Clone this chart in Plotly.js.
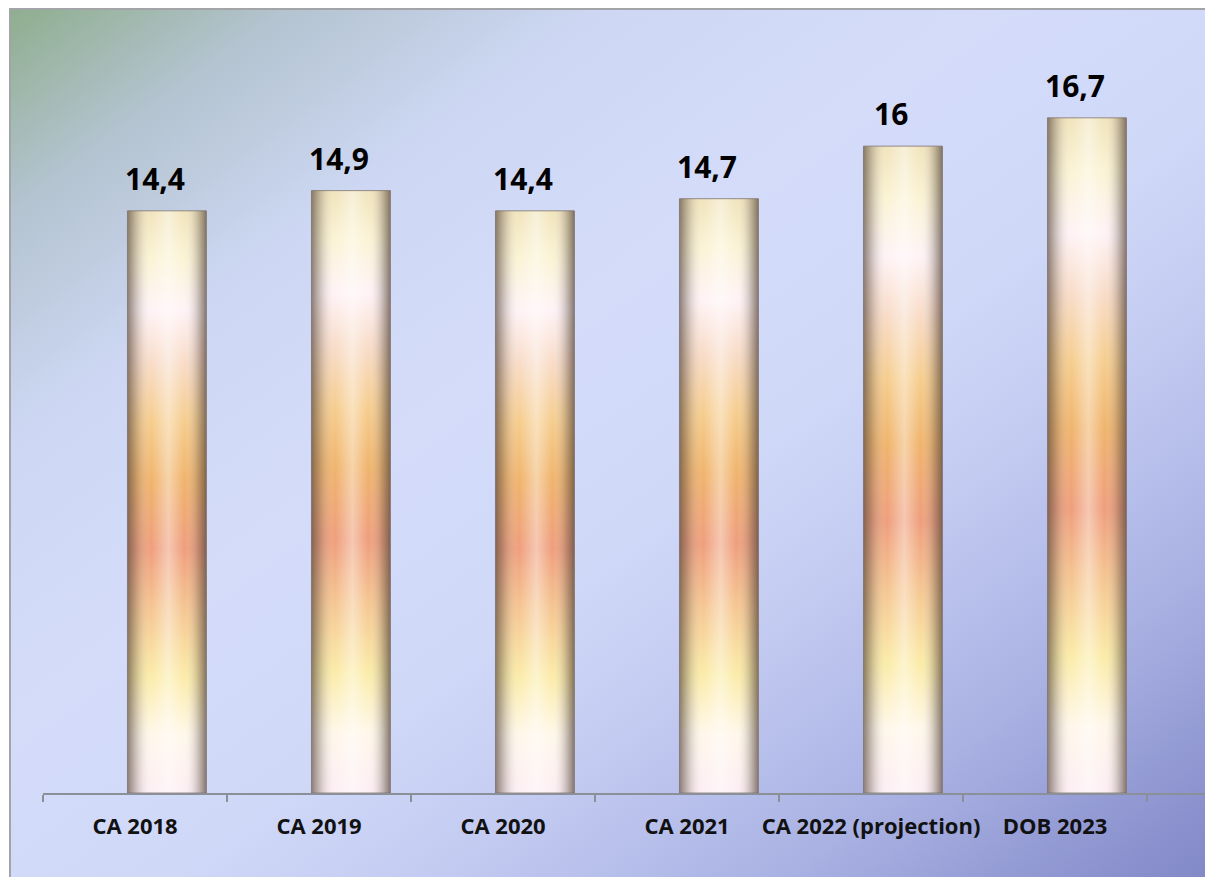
<!DOCTYPE html>
<html>
<head>
<meta charset="utf-8">
<script src="https://cdn.plot.ly/plotly-3.0.1.min.js"></script>
<style>
  html, body { margin: 0; padding: 0; background: #ffffff; width: 1205px; height: 877px; overflow: hidden; }
  #frame {
    position: absolute; left: 9px; top: 8px; width: 1220px; height: 900px;
    border-left: 2px solid #a2a4a8; border-top: 2px solid #a2a4a8;
    background: linear-gradient(to bottom right, #8fae8e 0%, #b3c3cf 11%, #cdd7f3 24%, #d4dcfa 40%, #d0d8f8 55%, #c2caf1 66%, #a9b1e3 80%, #8a91cd 93%, #7d84c4 100%);
  }
  #chart { position: absolute; left: 0; top: 0; width: 1205px; height: 877px; }
</style>
</head>
<body>
<div id="frame"></div>
<div id="chart"></div>
<script>
// ---- data ----
const categories = ['CA 2018', 'CA 2019', 'CA 2020', 'CA 2021', 'CA 2022 (projection)', 'DOB 2023'];
const values = [14.4, 14.9, 14.4, 14.7, 16, 16.7];
const valueLabels = values.map(v => String(v).replace('.', ','));

// ---- chart ----
const barOffset = -0.041;
const barWidth = 0.429;

const baseTrace = {
  type: 'bar', x: categories, y: values,
  offset: barOffset, width: barWidth,
  marker: { color: '#f3c48f', line: { width: 0 } },
  hoverinfo: 'none', showlegend: false
};
const shadeTrace = {
  type: 'bar', x: categories, y: values,
  offset: barOffset, width: barWidth,
  marker: { color: 'rgb(128,128,128)', line: { color: 'rgba(120,110,105,0.75)', width: 1 } },
  hoverinfo: 'none', showlegend: false
};

const annotations = categories.map((c, i) => ({
  x: c, y: values[i], text: valueLabels[i],
  showarrow: false, xanchor: 'center', yanchor: 'bottom',
  xshift: 20, yshift: 10,
  font: { family: 'Open Sans, sans-serif', size: 30, color: '#000000', weight: 700 }
}));

const layout = {
  width: 1205, height: 877,
  margin: { l: 43, r: 0, t: 20, b: 84, pad: 0 },
  paper_bgcolor: 'rgba(0,0,0,0)', plot_bgcolor: 'rgba(0,0,0,0)',
  barmode: 'overlay',
  showlegend: false,
  xaxis: {
    type: 'category',
    range: [-0.5, 5.815],
    showline: true, linecolor: '#8b8f97', linewidth: 2,
    ticks: 'outside', tickson: 'boundaries', ticklen: 7, tickwidth: 1.5, tickcolor: '#8b8f97',
    tickangle: 0, ticklabelstandoff: 13,
    showgrid: false, zeroline: false,
    tickfont: { family: 'Open Sans, sans-serif', size: 22, color: '#111111', weight: 700 },
    fixedrange: true
  },
  yaxis: {
    range: [0, 19.12],
    visible: false, showgrid: false, zeroline: false, fixedrange: true
  },
  annotations: annotations
};

const gd = document.getElementById('chart');
Plotly.newPlot(gd, [baseTrace, shadeTrace], layout, { displayModeBar: false, staticPlot: true }).then(() => {
  const NS = 'http://www.w3.org/2000/svg';
  const svg = gd.querySelector('svg.main-svg');
  let defs = svg.querySelector('defs');
  if (!defs) { defs = document.createElementNS(NS, 'defs'); svg.insertBefore(defs, svg.firstChild); }

  function makeGrad(id, vertical, stops) {
    const g = document.createElementNS(NS, 'linearGradient');
    g.setAttribute('id', id);
    g.setAttribute('x1', '0'); g.setAttribute('y1', '0');
    g.setAttribute('x2', vertical ? '0' : '1'); g.setAttribute('y2', vertical ? '1' : '0');
    stops.forEach(s => {
      const st = document.createElementNS(NS, 'stop');
      st.setAttribute('offset', s[0]);
      st.setAttribute('stop-color', s[1]);
      st.setAttribute('stop-opacity', s[2] === undefined ? 1 : s[2]);
      g.appendChild(st);
    });
    defs.appendChild(g);
  }
  makeGrad('barV', true, [
    ['0', '#f1e4bc'], ['0.08', '#fbf3d4'], ['0.17', '#fff3f6'], ['0.26', '#f8dcc8'],
    ['0.36', '#f6cd8e'], ['0.46', '#f0b46c'], ['0.58', '#ef9e7c'], ['0.68', '#f5c490'],
    ['0.8', '#fbeca8'], ['0.9', '#fff7ea'], ['1', '#fdeef4']
  ]);
  makeGrad('barH', false, [
    ['0', '#55463c', 0.68], ['0.1', '#65564c', 0.35], ['0.3', '#ffffff', 0.0],
    ['0.52', '#ffffff', 0.42], ['0.72', '#ffffff', 0.0], ['0.9', '#65564c', 0.35], ['1', '#55463c', 0.72]
  ]);

  const traces = gd.querySelectorAll('.barlayer .trace');
  if (traces[0]) traces[0].querySelectorAll('path').forEach(p => { p.style.fill = 'url(#barV)'; p.style.fillOpacity = 1; });
  if (traces[1]) traces[1].querySelectorAll('path').forEach(p => { p.style.fill = 'url(#barH)'; p.style.fillOpacity = 1; });
});
</script>
</body>
</html>
